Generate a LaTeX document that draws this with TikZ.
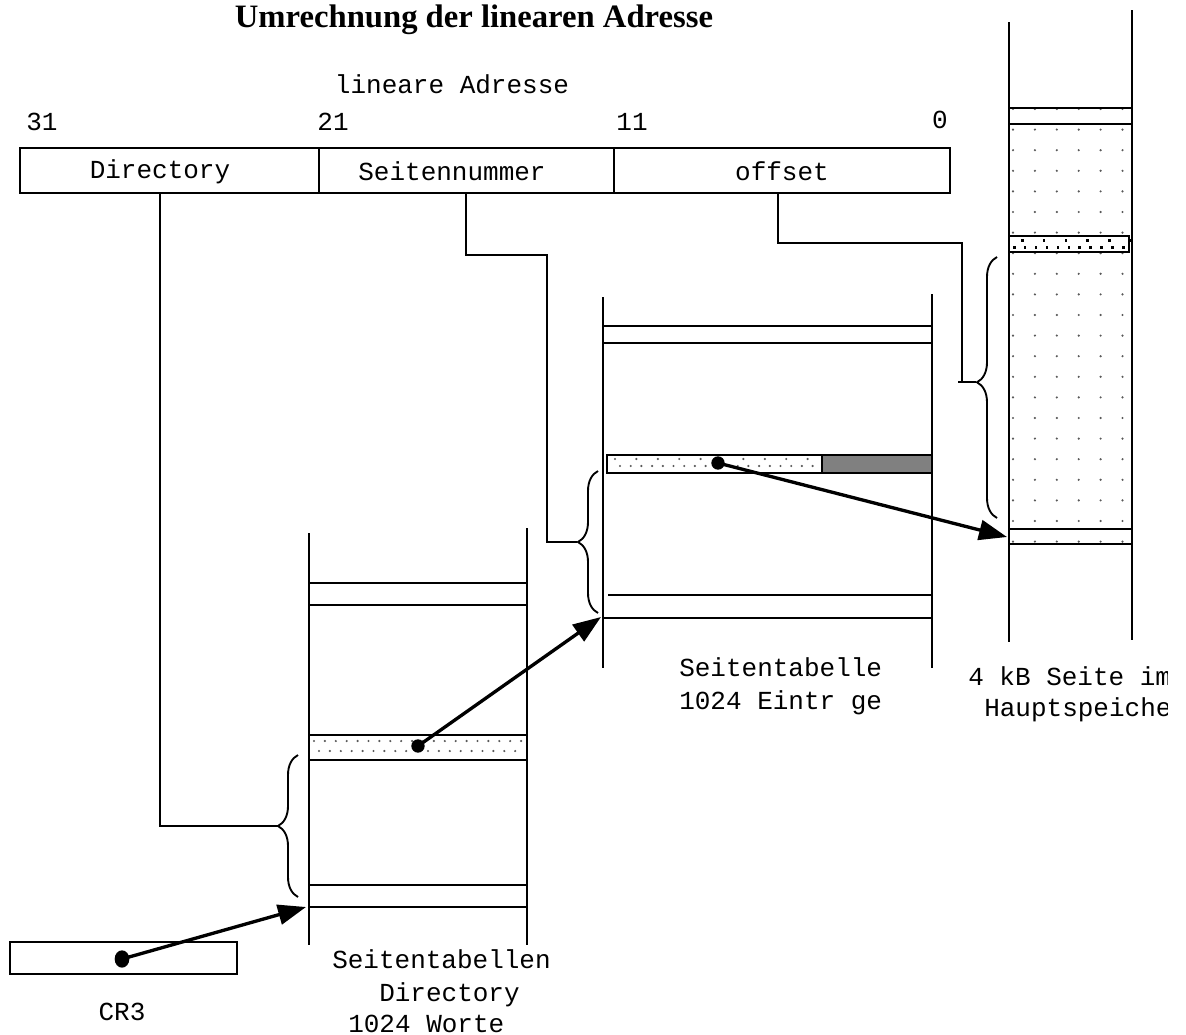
\documentclass[tikz,border=0pt]{standalone}
\usepackage{fontspec}
\setmainfont{Liberation Serif}
\setmonofont{Liberation Mono}
\usetikzlibrary{arrows.meta,decorations.pathreplacing}

\tikzset{
  lbl/.style={font=\ttfamily\fontsize{19.5}{23}\selectfont, inner sep=0pt, anchor=base},
  lblw/.style={lbl, anchor=base west},
  wall/.style={line width=2pt},
  ptr/.style={line width=2.5pt, -{Triangle[length=21pt,width=15pt]}},
  lbrace/.style={decorate, decoration={brace, amplitude=15pt, aspect=#1}, line width=1.4pt},
  lbrace/.default=0.5,
  grain/.style={fill=black!65},
}

\begin{document}
\begin{tikzpicture}[x=0.75pt, y=-0.75pt]
	\useasboundingbox (0,0) rectangle (1186,1035);
	\clip (0,0) rectangle (1167,1035);

	% title
	\node[font=\bfseries\fontsize{24.5}{28}\selectfont, inner sep=0pt, anchor=base] (title) at (474,27) {Umrechnung der linearen Adresse};

	% linear address
	\node[lbl] (linadr) at (452,93) {lineare Adresse};
	\node[lbl] (bit31) at (42,130) {31};
	\node[lbl] (bit21) at (333,130) {21};
	\node[lbl] (bit11) at (632,130) {11};
	\node[lbl] (bit0) at (940,128) {0};
	\draw[wall] (20,148) rectangle (950,193);
	\draw[wall] (319,148) -- (319,193) (614,148) -- (614,193);
	\node[lbl] (dirfield) at (160,178) {Directory};
	\node[lbl] (pagefield) at (452,180) {Seitennummer};
	\node[lbl] (offfield) at (782,180) {offset};
	\coordinate (dirout) at (160,193);
	\coordinate (pageout) at (466,193);
	\coordinate (offout) at (778,193);

	% page in main memory
	\foreach \j in {0,...,21}
		\foreach \i in {0,...,5}
			\fill[grain] (1013+21.9*\i,109+20.6*\j) circle (0.9pt);
	\draw[wall] (1009,22) -- (1009,642);
	\draw[wall] (1132,10) -- (1132,640);
	\draw[wall] (1009,108) -- (1132,108) (1009,124) -- (1132,124);
	\draw[wall] (1009,529) -- (1132,529) (1009,544) -- (1132,544);
	\filldraw[wall, fill=white] (1009,236) rectangle (1129,252);
	\foreach \i in {0,...,5}
		\fill (1021+21.8*\i,239) rectangle +(2.5,2.5);
	\foreach \i in {0,...,10}
		\fill (1013+10.9*\i,246) rectangle +(2.5,2.5);
	\coordinate (pagebase) at (1007,537);
	\draw[lbrace=0.52] (997,518) -- (997,257);
	\coordinate (offtip) at (976,382);
	\draw[wall] (offout) -- (778,243) -- (962,243) -- (962,382);
	\draw[wall] (958,382) -- (offtip);
	\node[lblw] (memlbl1) at (968,685) {4 kB Seite im};
	\node[lblw] (memlbl2) at (984,716) {Hauptspeicher};

	% page table
	\draw[wall] (603,297) -- (603,668);
	\draw[wall] (932,294) -- (932,668);
	\draw[wall] (603,326) -- (932,326) (603,343) -- (932,343);
	\draw[wall] (608,595) -- (932,595) (603,618) -- (932,618);
	\filldraw[wall, fill=white] (607,455) rectangle (822,473);
	\filldraw[wall, fill=black!50] (822,455) rectangle (932,473);
	\foreach \i in {0,...,9}
		\fill[grain] (615+21.4*\i,459) circle (0.9pt);
	\foreach \i in {0,...,18}
		\fill[grain] (620+10.7*\i,466) circle (0.9pt);
	\coordinate (ptbase) at (601,617);
	\fill (718,463) circle (5pt) coordinate (ptdot);
	\draw[lbrace] (598,613) -- (598,471);
	\coordinate (pagetip) at (577,542);
	\draw[wall] (pageout) -- (466,255) -- (547,255) -- (547,542) -- (pagetip);
	\node[lblw] (ptlbl1) at (679,676) {Seitentabelle};
	\node[lblw] (ptlbl2) at (679,709) {1024 Eintr ge};

	% page directory
	\draw[wall] (309,533) -- (309,945);
	\draw[wall] (527,528) -- (527,945);
	\draw[wall] (309,583) -- (527,583) (309,605) -- (527,605);
	\draw[wall] (309,885) -- (527,885) (309,907) -- (527,907);
	\draw[wall] (309,735) -- (527,735) (309,760) -- (527,760);
	\foreach \i in {0,...,19}
		\fill[grain] (314+10.9*\i,741) circle (0.9pt);
	\foreach \i in {0,...,18}
		\fill[grain] (319+10.9*\i,751) circle (0.9pt);
	\coordinate (dirbase) at (306,907);
	\fill (418,746) circle (5pt) coordinate (dirdot);
	\draw[lbrace] (298,897) -- (298,755);
	\coordinate (dirtip) at (278,826);
	\draw[wall] (dirout) -- (160,826) -- (dirtip);
	\node[lblw] (dirlbl1) at (332,968) {Seitentabellen};
	\node[lblw] (dirlbl2) at (379,1001) {Directory};
	\node[lblw] (dirlbl3) at (348,1032) {1024 Worte};

	% CR3
	\draw[wall] (10,942) rectangle (237,974);
	\fill (122,959) ellipse (5.5pt and 6.5pt) coordinate (crdot);
	\node[lbl] (crlbl) at (122,1020) {CR3};

	% pointers
	\draw[ptr] (crdot) -- (dirbase);
	\draw[ptr] (dirdot) -- (ptbase);
	\draw[ptr] (ptdot) -- (pagebase);
\end{tikzpicture}
\end{document}
